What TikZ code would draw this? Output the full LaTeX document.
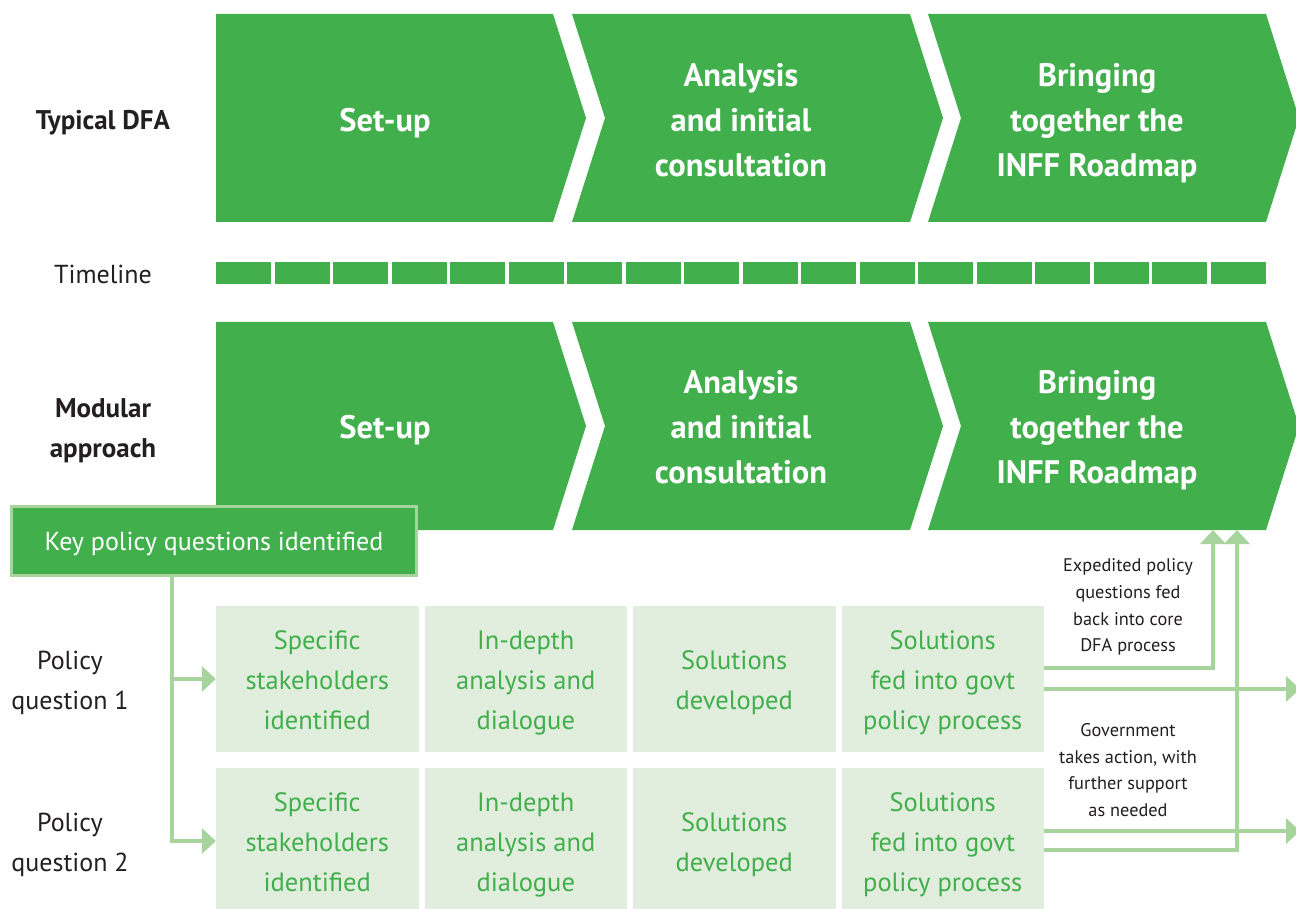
\documentclass[tikz,border=0pt]{standalone}
\usepackage{fontspec}
\setmainfont{PT Sans}
\usetikzlibrary{arrows.meta}
\definecolor{dgreen}{HTML}{40AF4C}
\definecolor{lgreen}{HTML}{E1EEDD}
\definecolor{lline}{HTML}{A6D49C}
\definecolor{txt}{HTML}{231F20}
\begin{document}
\begin{tikzpicture}[x=1pt,y=-1pt,
  chev/.style={fill=dgreen},
  chevtext/.style={text=white,font=\bfseries\fontsize{32.5}{45}\selectfont,align=center,inner sep=0},
  sidelabel/.style={text=txt,font=\fontsize{26}{40}\selectfont,align=center,inner sep=0},
  sidebold/.style={text=txt,font=\bfseries\fontsize{27}{40}\selectfont,align=center,inner sep=0},
  lbox/.style={fill=lgreen,minimum width=202.5pt,minimum height=146pt,inner sep=0},
  boxtext/.style={text=dgreen,font=\fontsize{26.5}{40}\selectfont,align=center,inner sep=0},
  keybox/.style={fill=dgreen,draw=lline,line width=3.5pt,minimum width=405pt,minimum height=69pt,inner sep=0},
  keytext/.style={text=white,font=\fontsize{26}{30}\selectfont,inner sep=0},
  note/.style={text=txt,font=\fontsize{18.3}{26.7}\selectfont,align=center,inner sep=0},
  conn/.style={draw=lline,line width=4pt},
  arr/.style={conn,-{Triangle[length=14pt,width=25pt]}},
  tick/.style={fill=dgreen}
]
\clip (0,0) rectangle (1296,909);
\fill[white] (0,0) rectangle (1296,909);

% ---- Typical DFA row
\fill[chev] (216,14) -- (553,14) -- (586,118) -- (553,222) -- (216,222) -- cycle;
\fill[chev] (572,14) -- (910,14) -- (943,118) -- (910,222) -- (572,222) -- (605,118) -- cycle;
\fill[chev] (928,14) -- (1266,14) -- (1299,118) -- (1266,222) -- (928,222) -- (961,118) -- cycle;
\node[chevtext] (t1) at (385,123) {Set-up};
\node[chevtext] (t2) at (741,120) {Analysis\\and initial\\consultation};
\node[chevtext] (t3) at (1097,123) {Bringing\\together the\\INFF Roadmap};
\node[sidebold] (lt) at (103,123) {Typical DFA};

% ---- Timeline
\node[sidelabel] (ltl) at (103,274) {Timeline};
\foreach \i in {0,...,17}{
  \fill[tick] ({216+58.5*\i},262) rectangle ({216+58.5*\i+55.2},284);
}

% ---- Modular row
\fill[chev] (216,322) -- (553,322) -- (586,426) -- (553,530) -- (216,530) -- cycle;
\fill[chev] (572,322) -- (910,322) -- (943,426) -- (910,530) -- (572,530) -- (605,426) -- cycle;
\fill[chev] (928,322) -- (1266,322) -- (1299,426) -- (1266,530) -- (928,530) -- (961,426) -- cycle;
\node[chevtext] (m1) at (385,430) {Set-up};
\node[chevtext] (m2) at (741,427) {Analysis\\and initial\\consultation};
\node[chevtext] (m3) at (1097,430) {Bringing\\together the\\INFF Roadmap};
\node[sidebold] (lm) at (103,430.5) {Modular\\approach};
\coordinate (in1) at (1213,530);
\coordinate (in2) at (1237,530);

% ---- Key policy questions
\node[keybox] (key) at (214,541) {};
\node[keytext] (keyt) at (214,544) {Key policy questions identified};

% ---- Policy questions
\node[sidelabel] (q1) at (70,683) {Policy\\question 1};
\node[sidelabel] (q2) at (70,845) {Policy\\question 2};

\node[lbox] (b11) at (317.25,679) {};
\node[lbox] (b12) at (525.75,679) {};
\node[lbox] (b13) at (734.25,679) {};
\node[lbox] (b14) at (942.75,679) {};
\node[lbox] (b21) at (317.25,841) {};
\node[lbox] (b22) at (525.75,841) {};
\node[lbox] (b23) at (734.25,841) {};
\node[lbox] (b24) at (942.75,841) {};
\node[boxtext] (s11) at (317.25,680) {Specific\\stakeholders\\identified};
\node[boxtext] (s12) at (525.75,683) {In-depth\\analysis and\\dialogue};
\node[boxtext] (s13) at (734.25,683) {Solutions\\developed};
\node[boxtext] (s14) at (942.75,683) {Solutions\\fed into govt\\policy process};
\node[boxtext] (s21) at (317.25,842) {Specific\\stakeholders\\identified};
\node[boxtext] (s22) at (525.75,845) {In-depth\\analysis and\\dialogue};
\node[boxtext] (s23) at (734.25,845) {Solutions\\developed};
\node[boxtext] (s24) at (942.75,845) {Solutions\\fed into govt\\policy process};

% ---- left connectors
\coordinate (split) at (172,679);
\draw[arr] (key.south -| split) |- (b21.west);
\draw[arr] (split) -- (b11.west);

% ---- right connectors
\coordinate (out1) at (1300,689);
\coordinate (out2) at (1300,831);
\draw[arr] (b14.east |- out1) -- (out1);
\draw[arr] (b24.east |- out2) -- (out2);
\draw[arr] (b14.east |- 0,668) -| (in1);
\draw[arr] (b24.east |- 0,850) -| (in2);

\node[note] (n1) at (1128,607) {Expedited policy\\questions fed\\back into core\\DFA process};
\node[note] (n2) at (1128,770) {Government\\takes action, with\\further support\\as needed};
\end{tikzpicture}
\end{document}
